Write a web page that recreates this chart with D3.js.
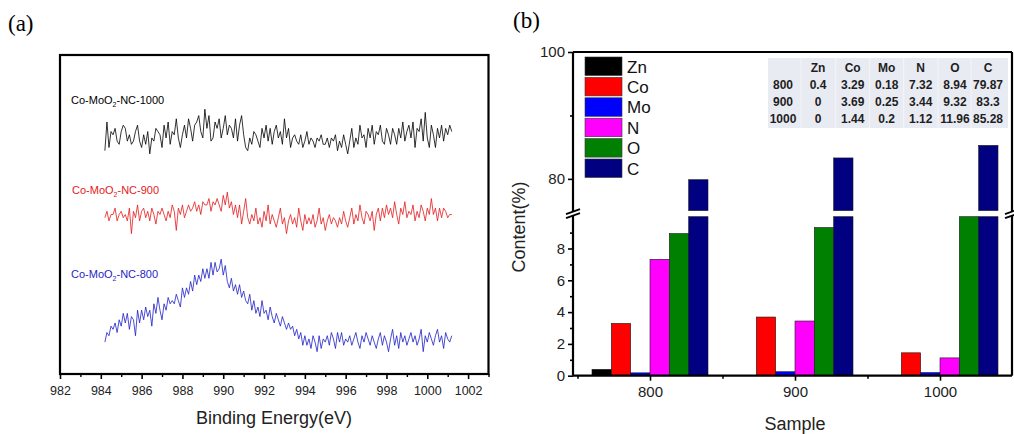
<!DOCTYPE html>
<html>
<head>
<meta charset="utf-8">
<script src="https://cdn.jsdelivr.net/npm/d3@7"></script>
<style>
  body { margin: 0; background: #fff; }
  svg { display: block; font-family: Arial, "Liberation Sans", sans-serif; }
</style>
</head>
<body>
<svg id="chart" width="1014" height="434"></svg>
<script>
// ---- panel (a): spectra, 0.1 eV steps from 984.2 to 1001.2 (offset intensities, a.u.)
const energyStart = 984.2;
const energyStep = 0.1;
const spec1000 = [
  70, 79, 71, 76, 75, 77, 73, 72, 76, 78,
  77, 73, 75, 72, 73, 76, 78, 73, 71, 75,
  72, 76, 69, 74, 73, 77, 76, 75, 71, 78,
  74, 79, 72, 76, 75, 80, 74, 71, 75, 78,
  74, 80, 77, 73, 78, 79, 81, 76, 74, 83,
  77, 81, 73, 74, 79, 77, 80, 74, 77, 81,
  75, 78, 77, 74, 80, 73, 78, 81, 75, 71,
  70, 74, 72, 76, 75, 73, 71, 77, 74, 78,
  73, 77, 72, 76, 78, 74, 76, 72, 80, 74,
  77, 71, 74, 75, 73, 72, 75, 71, 73, 76,
  72, 74, 73, 71, 74, 73, 75, 72, 72, 74,
  71, 74, 73, 75, 70, 73, 71, 75, 72, 69,
  73, 77, 71, 74, 72, 78, 74, 75, 71, 77,
  74, 78, 72, 76, 75, 78, 73, 72, 77, 75,
  72, 77, 75, 72, 77, 74, 79, 73, 76, 78,
  74, 79, 71, 77, 76, 80, 73, 82, 74, 71,
  78, 75, 71, 77, 74, 78, 73, 77, 75, 78,
  76
];
const spec900 = [
  49, 51, 48, 50, 50, 52, 48, 50, 51, 49,
  50, 48, 52, 44, 51, 49, 53, 48, 51, 52,
  49, 51, 48, 52, 50, 47, 51, 50, 52, 50,
  48, 51, 49, 53, 51, 45, 52, 50, 53, 49,
  51, 53, 51, 52, 54, 51, 53, 50, 54, 53,
  53, 55, 51, 54, 53, 55, 53, 51, 56, 53,
  57, 52, 54, 50, 53, 49, 53, 47, 51, 55,
  49, 47, 50, 48, 52, 47, 49, 46, 51, 48,
  53, 47, 50, 48, 46, 49, 52, 47, 49, 44,
  48, 50, 47, 49, 46, 52, 48, 45, 50, 47,
  49, 47, 50, 46, 48, 52, 47, 49, 45, 48,
  50, 47, 49, 48, 46, 49, 47, 51, 48, 46,
  49, 52, 47, 50, 48, 53, 49, 47, 51, 50,
  48, 51, 45, 50, 52, 48, 52, 49, 53, 50,
  52, 49, 54, 50, 47, 52, 50, 54, 49, 51,
  50, 53, 48, 51, 49, 53, 51, 48, 52, 50,
  55, 50, 52, 48, 52, 49, 52, 51, 49, 50,
  50
];
const spec800 = [
  10, 13, 12, 15, 14, 16, 13, 17, 15, 19,
  16, 19, 14, 18, 17, 12, 20, 16, 20, 17,
  21, 18, 20, 15, 22, 19, 24, 20, 17, 22,
  20, 24, 22, 23, 22, 25, 23, 21, 27, 24,
  27, 25, 29, 26, 31, 28, 31, 29, 33, 30,
  33, 30, 35, 31, 35, 32, 33, 36, 31, 34,
  29, 27, 30, 26, 28, 25, 28, 24, 26, 23,
  22, 25, 20, 23, 19, 21, 18, 23, 19, 20,
  17, 21, 18, 16, 19, 17, 15, 18, 16, 14,
  16, 14, 15, 12, 14, 11, 13, 9, 12, 9,
  11, 8, 12, 10, 7, 12, 8, 11, 10, 12,
  9, 13, 11, 8, 13, 10, 13, 9, 11, 10,
  12, 9, 11, 13, 10, 8, 12, 10, 13, 11,
  9, 12, 10, 8, 11, 13, 9, 12, 10, 7,
  11, 14, 9, 12, 8, 13, 10, 12, 9, 11,
  13, 10, 12, 9, 11, 14, 7, 12, 10, 13,
  11, 9, 12, 14, 10, 12, 8, 13, 11, 10,
  12
];
const energyTicks = [982, 984, 986, 988, 990, 992, 994, 996, 998, 1000, 1002];

// ---- panel (b): element content
const samples = [800, 900, 1000];
const elements = ['Zn', 'Co', 'Mo', 'N', 'O', 'C'];
const contentZn = [0.4, 0, 0];
const contentCo = [3.29, 3.69, 1.44];
const contentMo = [0.18, 0.25, 0.2];
const contentN = [7.32, 3.44, 1.12];
const contentO = [8.94, 9.32, 11.96];
const contentC = [79.87, 83.3, 85.28];
const tableRows = ['800', '900', '1000'];

const svg = d3.select('#chart');
svg.append('rect').attr('width', 1014).attr('height', 434).attr('fill', '#fff');

// ================= panel (a) =================
const ga = svg.append('g');
const xa = d3.scaleLinear().domain([982, 1003]).range([60, 488.5]);
const ya = d3.scaleLinear().domain([0, 100]).range([374, 55]);

ga.append('text').attr('x', 8).attr('y', 31)
  .style('font-family', '"Liberation Serif", "Times New Roman", serif')
  .style('font-size', '23px').text('(a)');

const spectra = [
  { values: spec1000, color: '#000000', name: '1000', lx: 71, ly: 104 },
  { values: spec900, color: '#e31a1c', name: '900', lx: 72, ly: 194 },
  { values: spec800, color: '#1f1fc8', name: '800', lx: 71, ly: 278 }
];

const line = d3.line()
  .x((d, i) => xa(energyStart + i * energyStep))
  .y(d => ya(d));

spectra.forEach(s => {
  ga.append('path')
    .attr('d', line(s.values))
    .attr('fill', 'none')
    .attr('stroke', s.color)
    .attr('stroke-width', 0.8);

  const t = ga.append('text').attr('x', s.lx).attr('y', s.ly)
    .style('font-size', '11px').attr('fill', s.color);
  t.append('tspan').text('Co-MoO');
  t.append('tspan').attr('dy', 3).style('font-size', '7px').text('2');
  t.append('tspan').attr('dy', -3).text('-NC-' + s.name);
});

ga.append('rect')
  .attr('x', 60).attr('y', 55)
  .attr('width', 428.5).attr('height', 319)
  .attr('fill', 'none').attr('stroke', '#000').attr('stroke-width', 2.2);

const axA = ga.append('g').attr('transform', 'translate(0,374)');
axA.call(d3.axisBottom(xa).tickValues(energyTicks).tickSize(5).tickSizeOuter(0).tickFormat(d3.format('d')));
axA.select('.domain').remove();
axA.selectAll('line').attr('stroke-width', 1.6);
axA.selectAll('text').style('font-size', '12.5px').attr('dy', '1.05em').attr('fill', '#222');
const axAminor = ga.append('g').attr('transform', 'translate(0,374)');
axAminor.call(d3.axisBottom(xa).tickValues(d3.range(983, 1004, 2)).tickSize(3).tickFormat(''));
axAminor.select('.domain').remove();
axAminor.selectAll('line').attr('stroke-width', 1.4);

ga.append('text').attr('x', 274).attr('y', 424)
  .attr('text-anchor', 'middle').style('font-size', '18px').attr('fill', '#222')
  .text('Binding Energy(eV)');

// ================= panel (b) =================
const gb = svg.append('g');
const L = 573, R = 1012, T = 52, B = 375.7;
const xb = d3.scaleLinear().domain([750, 1050]).range([577.5, 1012.5]);
const yLow = d3.scaleLinear().domain([0, 10]).range([B, 216.7]);
const yUp = d3.scaleLinear().domain([75, 100]).range([210.6, T]);

gb.append('text').attr('x', 513).attr('y', 28)
  .style('font-family', '"Liberation Serif", "Times New Roman", serif')
  .style('font-size', '23px').text('(b)');

const colors = { Zn: '#000000', Co: '#ff0000', Mo: '#0000ff', N: '#ff00ff', O: '#008000', C: '#000080' };
const contents = { Zn: contentZn, Co: contentCo, Mo: contentMo, N: contentN, O: contentO, C: contentC };
const barW = 80 / elements.length;

const bars = [];
samples.forEach((s, i) => {
  elements.forEach((el, j) => {
    bars.push({ sample: s, el, j, value: contents[el][i] });
  });
});

const barG = gb.append('g');
// lower segment (0-10)
barG.selectAll('rect.low')
  .data(bars.filter(d => d.value > 0))
  .join('rect')
  .attr('class', 'low')
  .attr('x', d => xb(d.sample - 40 + d.j * barW))
  .attr('width', d => xb(d.sample - 40 + (d.j + 1) * barW) - xb(d.sample - 40 + d.j * barW))
  .attr('y', d => yLow(Math.min(d.value, 10)))
  .attr('height', d => yLow(0) - yLow(Math.min(d.value, 10)))
  .attr('fill', d => colors[d.el])
  .attr('stroke', '#1a1a1a').attr('stroke-width', 0.6);
// upper segment (75-100)
barG.selectAll('rect.up')
  .data(bars.filter(d => d.value > 75))
  .join('rect')
  .attr('class', 'up')
  .attr('x', d => xb(d.sample - 40 + d.j * barW))
  .attr('width', d => xb(d.sample - 40 + (d.j + 1) * barW) - xb(d.sample - 40 + d.j * barW))
  .attr('y', d => yUp(Math.min(d.value, 100)))
  .attr('height', d => yUp(75) - yUp(Math.min(d.value, 100)))
  .attr('fill', d => colors[d.el])
  .attr('stroke', '#1a1a1a').attr('stroke-width', 0.6);

// frame with axis break
const frame = gb.append('g').attr('stroke', '#000').attr('stroke-width', 2.2).attr('fill', 'none');
frame.append('line').attr('x1', L).attr('x2', R).attr('y1', T).attr('y2', T);
frame.append('line').attr('x1', L).attr('x2', R).attr('y1', B).attr('y2', B);
[L, R].forEach(x => {
  frame.append('line').attr('x1', x).attr('x2', x).attr('y1', T).attr('y2', yUp(75) + 1);
  frame.append('line').attr('x1', x).attr('x2', x).attr('y1', yLow(10) - 1).attr('y2', B);
  // break marks
  [yUp(75) + 1, yLow(10) - 1].forEach(y => {
    frame.append('line')
      .attr('x1', x - 7).attr('y1', y + 2.5)
      .attr('x2', x + 7).attr('y2', y - 2.5)
      .attr('stroke-width', 1.8);
  });
});

// y axes
function styleAxis(g, fs) {
  g.select('.domain').remove();
  g.selectAll('line').attr('stroke-width', 1.6);
  g.selectAll('text').style('font-size', fs).attr('fill', '#222');
}
const yLowAx = gb.append('g').attr('transform', `translate(${L},0)`)
  .call(d3.axisLeft(yLow).tickValues([0, 2, 4, 6, 8]).tickSize(5).tickPadding(3));
styleAxis(yLowAx, '15px');
const yLowMinor = gb.append('g').attr('transform', `translate(${L},0)`)
  .call(d3.axisLeft(yLow).tickValues([1, 3, 5, 7, 9]).tickSize(3).tickFormat(''));
styleAxis(yLowMinor, '15px');
const yUpAx = gb.append('g').attr('transform', `translate(${L},0)`)
  .call(d3.axisLeft(yUp).tickValues([80, 100]).tickSize(5).tickPadding(3));
styleAxis(yUpAx, '15px');
const yUpMinor = gb.append('g').attr('transform', `translate(${L},0)`)
  .call(d3.axisLeft(yUp).tickValues([90]).tickSize(3).tickFormat(''));
styleAxis(yUpMinor, '15px');

// x axis
const xAx = gb.append('g').attr('transform', `translate(0,${B})`)
  .call(d3.axisBottom(xb).tickValues(samples).tickSize(5).tickPadding(6).tickFormat(d3.format('d')));
styleAxis(xAx, '15px');
const xMinor = gb.append('g').attr('transform', `translate(0,${B})`)
  .call(d3.axisBottom(xb).tickValues([750, 850, 950]).tickSize(3).tickFormat(''));
styleAxis(xMinor, '15px');

gb.append('text')
  .attr('transform', 'translate(525,227) rotate(-90)')
  .attr('text-anchor', 'middle').style('font-size', '18px').attr('fill', '#222')
  .text('Content(%)');
gb.append('text').attr('x', 795).attr('y', 430)
  .attr('text-anchor', 'middle').style('font-size', '18px').attr('fill', '#222')
  .text('Sample');

// legend
const legend = gb.append('g').attr('transform', 'translate(585,57)');
elements.forEach((el, i) => {
  const row = legend.append('g').attr('transform', `translate(0,${i * 20.4})`);
  row.append('rect').attr('width', 37).attr('height', 18.5)
    .attr('fill', colors[el]).attr('stroke', '#333').attr('stroke-width', 0.6);
  row.append('text').attr('x', 42).attr('y', 15.5)
    .style('font-size', '17px').attr('fill', '#111').text(el);
});

// inset table
const table = gb.append('g');
table.append('rect').attr('x', 768).attr('y', 58).attr('width', 240).attr('height', 70)
  .attr('fill', '#e9ebf3');
const colX = [783, 818, 852.7, 886.7, 920.7, 955, 988];
colX.slice(1).forEach((cx, i) => {
  table.append('line').attr('x1', cx - 17).attr('x2', cx - 17).attr('y1', 58).attr('y2', 128)
    .attr('stroke', '#f7f8fb').attr('stroke-width', 0.8);
});
const rowY = [72, 89, 106, 123];
const tbl = table.append('g').style('font-size', '12px').style('font-weight', 'bold')
  .attr('fill', '#1e1e1e').attr('text-anchor', 'middle');
elements.forEach((el, j) => {
  tbl.append('text').attr('x', colX[j + 1]).attr('y', rowY[0]).text(el);
});
tableRows.forEach((r, i) => {
  tbl.append('text').attr('x', colX[0]).attr('y', rowY[i + 1]).text(r);
  elements.forEach((el, j) => {
    tbl.append('text').attr('x', colX[j + 1]).attr('y', rowY[i + 1]).text(contents[el][i]);
  });
});
</script>
</body>
</html>
